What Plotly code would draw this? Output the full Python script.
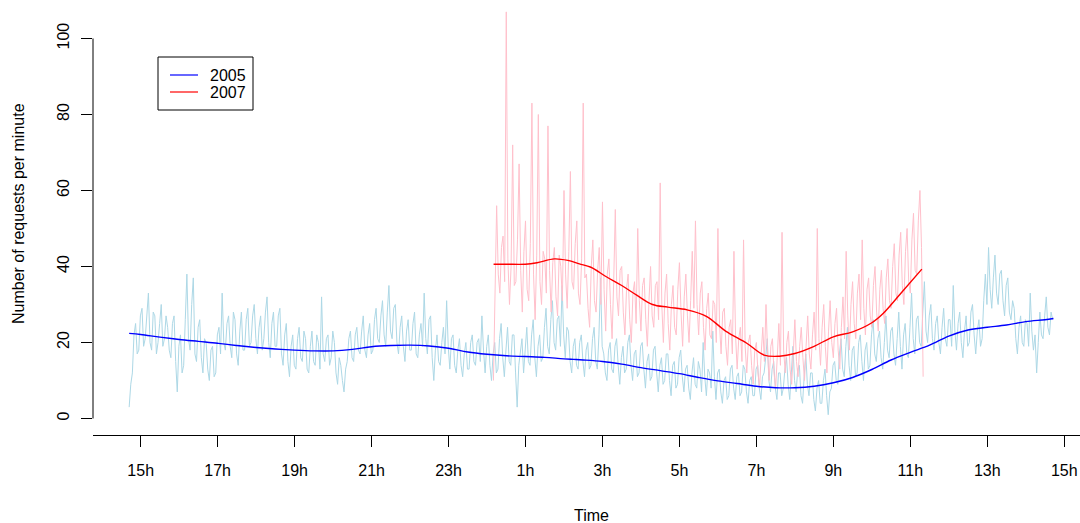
import pandas as pd
import plotly.graph_objects as go

# ---------------- data ----------------
# requests per minute, one reading every 2.5 minutes
start_2005 = 14 + 42 / 60          # 14:42 on day 1
req_2005 = [
    3, 9, 12, 22, 25, 17, 18, 27, 29, 19, 21, 26, 33, 20, 18, 28, 27, 17, 20, 25, 30, 19, 21, 27,
    24, 18, 16, 25, 27, 15, 7, 19, 22, 12, 14, 26, 38, 21, 18, 30, 37, 17, 15, 24, 26, 16, 12, 21,
    20, 13, 10, 18, 19, 11, 12, 22, 24, 17, 33, 20, 18, 25, 27, 19, 16, 28, 26, 17, 14, 23, 28, 18,
    18, 26, 29, 19, 20, 27, 30, 21, 17, 24, 27, 18, 21, 28, 32, 20, 16, 25, 28, 19, 19, 27, 29, 17,
    14, 22, 25, 15, 11, 19, 22, 14, 13, 21, 24, 16, 15, 23, 21, 13, 12, 19, 23, 15, 14, 22, 20, 13,
    32, 17, 15, 21, 22, 14, 16, 23, 20, 12, 9, 16, 14, 10, 7, 13, 15, 21, 23, 16, 15, 22, 24, 18,
    17, 23, 27, 18, 16, 22, 25, 17, 18, 26, 29, 21, 20, 27, 31, 22, 19, 28, 35, 23, 21, 29, 30, 20,
    17, 24, 27, 19, 15, 23, 26, 18, 18, 25, 28, 17, 16, 22, 25, 19, 33, 21, 17, 26, 27, 16, 10, 18,
    22, 15, 14, 20, 24, 17, 31, 19, 13, 21, 22, 14, 12, 18, 21, 14, 11, 17, 20, 13, 13, 20, 22, 15,
    14, 20, 21, 15, 27, 18, 12, 19, 22, 14, 10, 17, 20, 12, 13, 21, 25, 16, 11, 18, 24, 15, 14, 22,
    22, 12, 3, 14, 18, 21, 12, 19, 24, 15, 14, 22, 26, 16, 11, 19, 22, 15, 16, 24, 29, 19, 17, 26,
    31, 20, 18, 26, 27, 19, 35, 22, 16, 24, 23, 15, 12, 19, 21, 14, 13, 20, 22, 15, 11, 18, 20, 13,
    14, 21, 24, 15, 13, 22, 37, 19, 17, 12, 10, 18, 20, 13, 12, 19, 21, 14, 9, 16, 19, 12, 13, 20,
    22, 14, 10, 17, 18, 11, 12, 19, 20, 13, 8, 15, 17, 10, 11, 18, 19, 12, 7, 14, 16, 9, 10, 17,
    17, 10, 6, 14, 15, 8, 9, 16, 18, 11, 7, 13, 14, 8, 5, 12, 16, 9, 8, 15, 13, 7, 20, 11,
    6, 13, 12, 8, 23, 11, 5, 12, 13, 7, 4, 10, 11, 5, 6, 13, 14, 8, 5, 11, 12, 6, 7, 14,
    13, 7, 4, 10, 11, 6, 6, 13, 14, 8, 5, 11, 12, 16, 21, 10, 7, 13, 15, 8, 5, 12, 12, 6,
    8, 13, 16, 9, 5, 12, 19, 10, 7, 13, 14, 6, 4, 11, 17, 9, 6, 12, 12, 5, 2, 8, 10, 4,
    4, 10, 13, 6, 1, 7, 8, 14, 15, 10, 9, 17, 21, 13, 11, 19, 24, 14, 10, 18, 19, 11, 12, 20,
    22, 15, 10, 18, 20, 13, 14, 22, 26, 17, 15, 21, 23, 16, 13, 20, 27, 18, 16, 23, 24, 17, 14, 21,
    28, 19, 13, 22, 25, 17, 16, 24, 33, 21, 17, 26, 27, 20, 19, 28, 36, 23, 20, 27, 30, 21, 18, 25,
    27, 20, 17, 24, 29, 21, 19, 26, 26, 19, 35, 23, 18, 25, 28, 20, 16, 23, 27, 19, 20, 28, 30, 22,
    17, 23, 26, 19, 21, 31, 38, 30, 45, 34, 29, 37, 43, 33, 30, 38, 39, 31, 27, 35, 37, 28, 26, 31,
    29, 21, 17, 24, 27, 20, 19, 26, 25, 19, 33, 23, 18, 22, 12, 20, 28, 22, 21, 27, 32, 24, 22, 28,
    26,
]

start_2007 = 24 + 10 / 60          # 00:10 on day 2
req_2007 = [
    10, 30, 56, 38, 33, 45, 48, 36, 107, 42, 30, 40, 72, 35, 36, 47, 67, 39, 28, 44, 52, 34, 31, 46,
    83, 38, 26, 43, 80, 36, 30, 44, 42, 33, 77, 39, 28, 41, 45, 32, 27, 43, 40, 31, 60, 38, 29, 44,
    65, 36, 34, 46, 52, 33, 30, 42, 83, 37, 38, 29, 24, 40, 47, 31, 28, 39, 45, 30, 57, 34, 23, 38,
    42, 30, 21, 36, 55, 32, 27, 39, 40, 28, 22, 34, 38, 26, 20, 33, 36, 25, 50, 31, 23, 35, 37, 26,
    19, 31, 40, 27, 24, 35, 36, 26, 62, 30, 20, 33, 38, 25, 18, 30, 35, 24, 22, 34, 41, 28, 19, 32,
    38, 27, 20, 31, 44, 29, 52, 30, 22, 33, 36, 24, 18, 29, 33, 22, 21, 31, 30, 20, 50, 25, 17, 28,
    29, 19, 14, 24, 26, 17, 44, 22, 13, 21, 24, 15, 47, 19, 12, 20, 22, 14, 9, 18, 20, 12, 8, 17,
    24, 15, 30, 17, 10, 19, 21, 12, 8, 16, 25, 14, 49, 18, 12, 20, 23, 13, 9, 17, 26, 15, 11, 19,
    24, 16, 10, 19, 27, 17, 13, 22, 28, 18, 50, 21, 14, 24, 30, 19, 12, 23, 31, 20, 16, 25, 29, 18,
    13, 24, 32, 21, 44, 27, 18, 30, 36, 25, 21, 33, 38, 26, 47, 29, 22, 34, 37, 27, 24, 35, 40, 28,
    23, 34, 39, 29, 25, 37, 42, 31, 29, 40, 46, 33, 31, 43, 49, 35, 30, 44, 50, 36, 33, 47, 54, 39,
    38, 52, 60, 45, 11,
]

# smoothed curves (hours since midnight of day 1, value)
smooth_2005_h = [14.70, 15.0, 15.5, 16.0, 16.5, 17.0, 17.5, 18.0, 18.5, 19.0,
                 19.5, 20.0, 20.5, 21.0, 21.5, 22.0, 22.5, 23.0, 23.5, 24.0,
                 24.5, 25.0, 25.5, 26.0, 26.5, 27.0, 27.5, 28.0, 28.5, 29.0,
                 29.5, 30.0, 30.5, 31.0, 31.5, 32.0, 32.5, 33.0, 33.5, 34.0,
                 34.5, 35.0, 35.5, 36.0, 36.5, 37.0, 37.5, 38.0, 38.5, 38.72]
smooth_2005_v = [22.4, 22.1, 21.4, 20.8, 20.3, 19.8, 19.2, 18.7, 18.3, 18.0,
                 17.8, 17.8, 18.2, 18.9, 19.2, 19.3, 19.1, 18.5, 17.5, 16.9,
                 16.5, 16.3, 16.1, 15.7, 15.4, 15.0, 14.3, 13.4, 12.6, 11.8,
                 10.8, 9.9, 9.2, 8.5, 8.1, 8.1, 8.5, 9.4, 10.8, 12.9,
                 15.4, 17.4, 19.3, 21.7, 23.3, 24.0, 24.6, 25.5, 26.0, 26.3]

smooth_2007_h = [24.17, 24.5, 25.0, 25.3, 25.75, 26.1, 26.4, 26.7, 27.1, 27.5,
                 27.9, 28.3, 28.7, 29.2, 29.7, 30.2, 30.75, 31.2, 31.6, 32.0,
                 32.5, 33.0, 33.5, 34.0, 34.3, 34.75, 35.3]
smooth_2007_v = [40.6, 40.6, 40.6, 41.0, 42.0, 41.6, 40.7, 39.8, 37.3, 35.0,
                 32.4, 30.0, 29.3, 28.6, 26.9, 23.0, 19.8, 16.7, 16.4, 17.1,
                 19.0, 21.5, 22.8, 25.2, 27.7, 32.9, 39.3]

y_ticks = [0, 20, 40, 60, 80, 100]
series_names = ["2005", "2007"]
series_colors = ["blue", "red"]

# ---------------- build ----------------
BASE = pd.Timestamp("2000-01-01")


def at(hours):
    return BASE + pd.to_timedelta(hours, unit="h")


t_2005 = pd.date_range(at(start_2005), periods=len(req_2005), freq="150s")
t_2007 = pd.date_range(at(start_2007), periods=len(req_2007), freq="150s")
ts_2005 = [at(h) for h in smooth_2005_h]
ts_2007 = [at(h) for h in smooth_2007_h]

FONT = "Liberation Sans, Arial, Helvetica, sans-serif"
W, H = 1080, 523
ML, MR, MT, MB = 93, 0, 0, 88
PW, PH = W - ML - MR, H - MT - MB


def px(x):   # pixel -> paper x
    return (x - ML) / PW


def py(y):   # pixel -> paper y
    return 1 - (y - MT) / PH


fig = go.Figure()
fig.add_trace(go.Scatter(x=t_2005, y=req_2005, mode="lines",
                         line=dict(color="lightblue", width=1),
                         showlegend=False, hoverinfo="skip"))
fig.add_trace(go.Scatter(x=t_2007, y=req_2007, mode="lines",
                         line=dict(color="pink", width=1),
                         showlegend=False, hoverinfo="skip"))
fig.add_trace(go.Scatter(x=ts_2005, y=smooth_2005_v, mode="lines", name=series_names[0],
                         line=dict(color=series_colors[0], width=1.4, shape="spline"),
                         showlegend=False))
fig.add_trace(go.Scatter(x=ts_2007, y=smooth_2007_v, mode="lines", name=series_names[1],
                         line=dict(color=series_colors[1], width=1.4, shape="spline"),
                         showlegend=False))

# legend box drawn like R's legend()
shapes = [
    dict(type="line", xref="paper", yref="y", x0=0, x1=0,
         y0=y_ticks[0], y1=y_ticks[-1], line=dict(color="black", width=1)),
    dict(type="rect", xref="paper", yref="paper", x0=px(158), x1=px(253),
         y0=py(57), y1=py(110), line=dict(color="black", width=1),
         fillcolor="white", layer="above"),
]
annotations = [
    dict(text="Number of requests per minute", xref="paper", yref="paper",
         x=px(18), y=py(214), textangle=-90, showarrow=False,
         xanchor="center", yanchor="middle", font=dict(size=16)),
    dict(text="Time", xref="paper", yref="paper", x=px(591), y=py(515),
         showarrow=False, xanchor="center", yanchor="middle", font=dict(size=16)),
]
for k, (name, col) in enumerate(zip(series_names, series_colors)):
    yrow = 75 + 17 * k
    shapes.append(dict(type="line", xref="paper", yref="paper",
                       x0=px(170), x1=px(198), y0=py(yrow), y1=py(yrow),
                       line=dict(color=col, width=1.2), layer="above"))
    annotations.append(dict(text=name, xref="paper", yref="paper",
                            x=px(208), y=py(yrow), showarrow=False,
                            xanchor="left", yanchor="middle", font=dict(size=16)))

fig.update_layout(
    width=W, height=H,
    margin=dict(l=ML, r=MR, t=MT, b=MB),
    plot_bgcolor="white", paper_bgcolor="white",
    font=dict(family=FONT, size=16, color="black"),
    showlegend=False,
    xaxis=dict(type="date", range=[at(13.760), at(39.410)],
               tick0=at(15), dtick=2 * 3600 * 1000, tickformat="%-Hh",
               showline=True, linecolor="black", linewidth=1,
               ticks="outside", ticklen=11, tickcolor="black", tickwidth=1,
               showgrid=False, zeroline=False, automargin=False,
               ticklabelstandoff=10),
    yaxis=dict(range=[-4.34, 110.13], tickmode="array", tickvals=y_ticks,
               ticktext=[str(v) for v in y_ticks], tickangle=-90,
               ticks="outside", ticklen=11, tickcolor="black", tickwidth=1,
               showline=False, showgrid=False, zeroline=False,
               automargin=False, ticklabelstandoff=6),
    shapes=shapes,
    annotations=annotations,
)

fig.write_html(
    "out.html",
    config={"displayModeBar": False},
    post_script="document.body.style.margin='0';"
                "document.body.style.overflow='hidden';",
)
